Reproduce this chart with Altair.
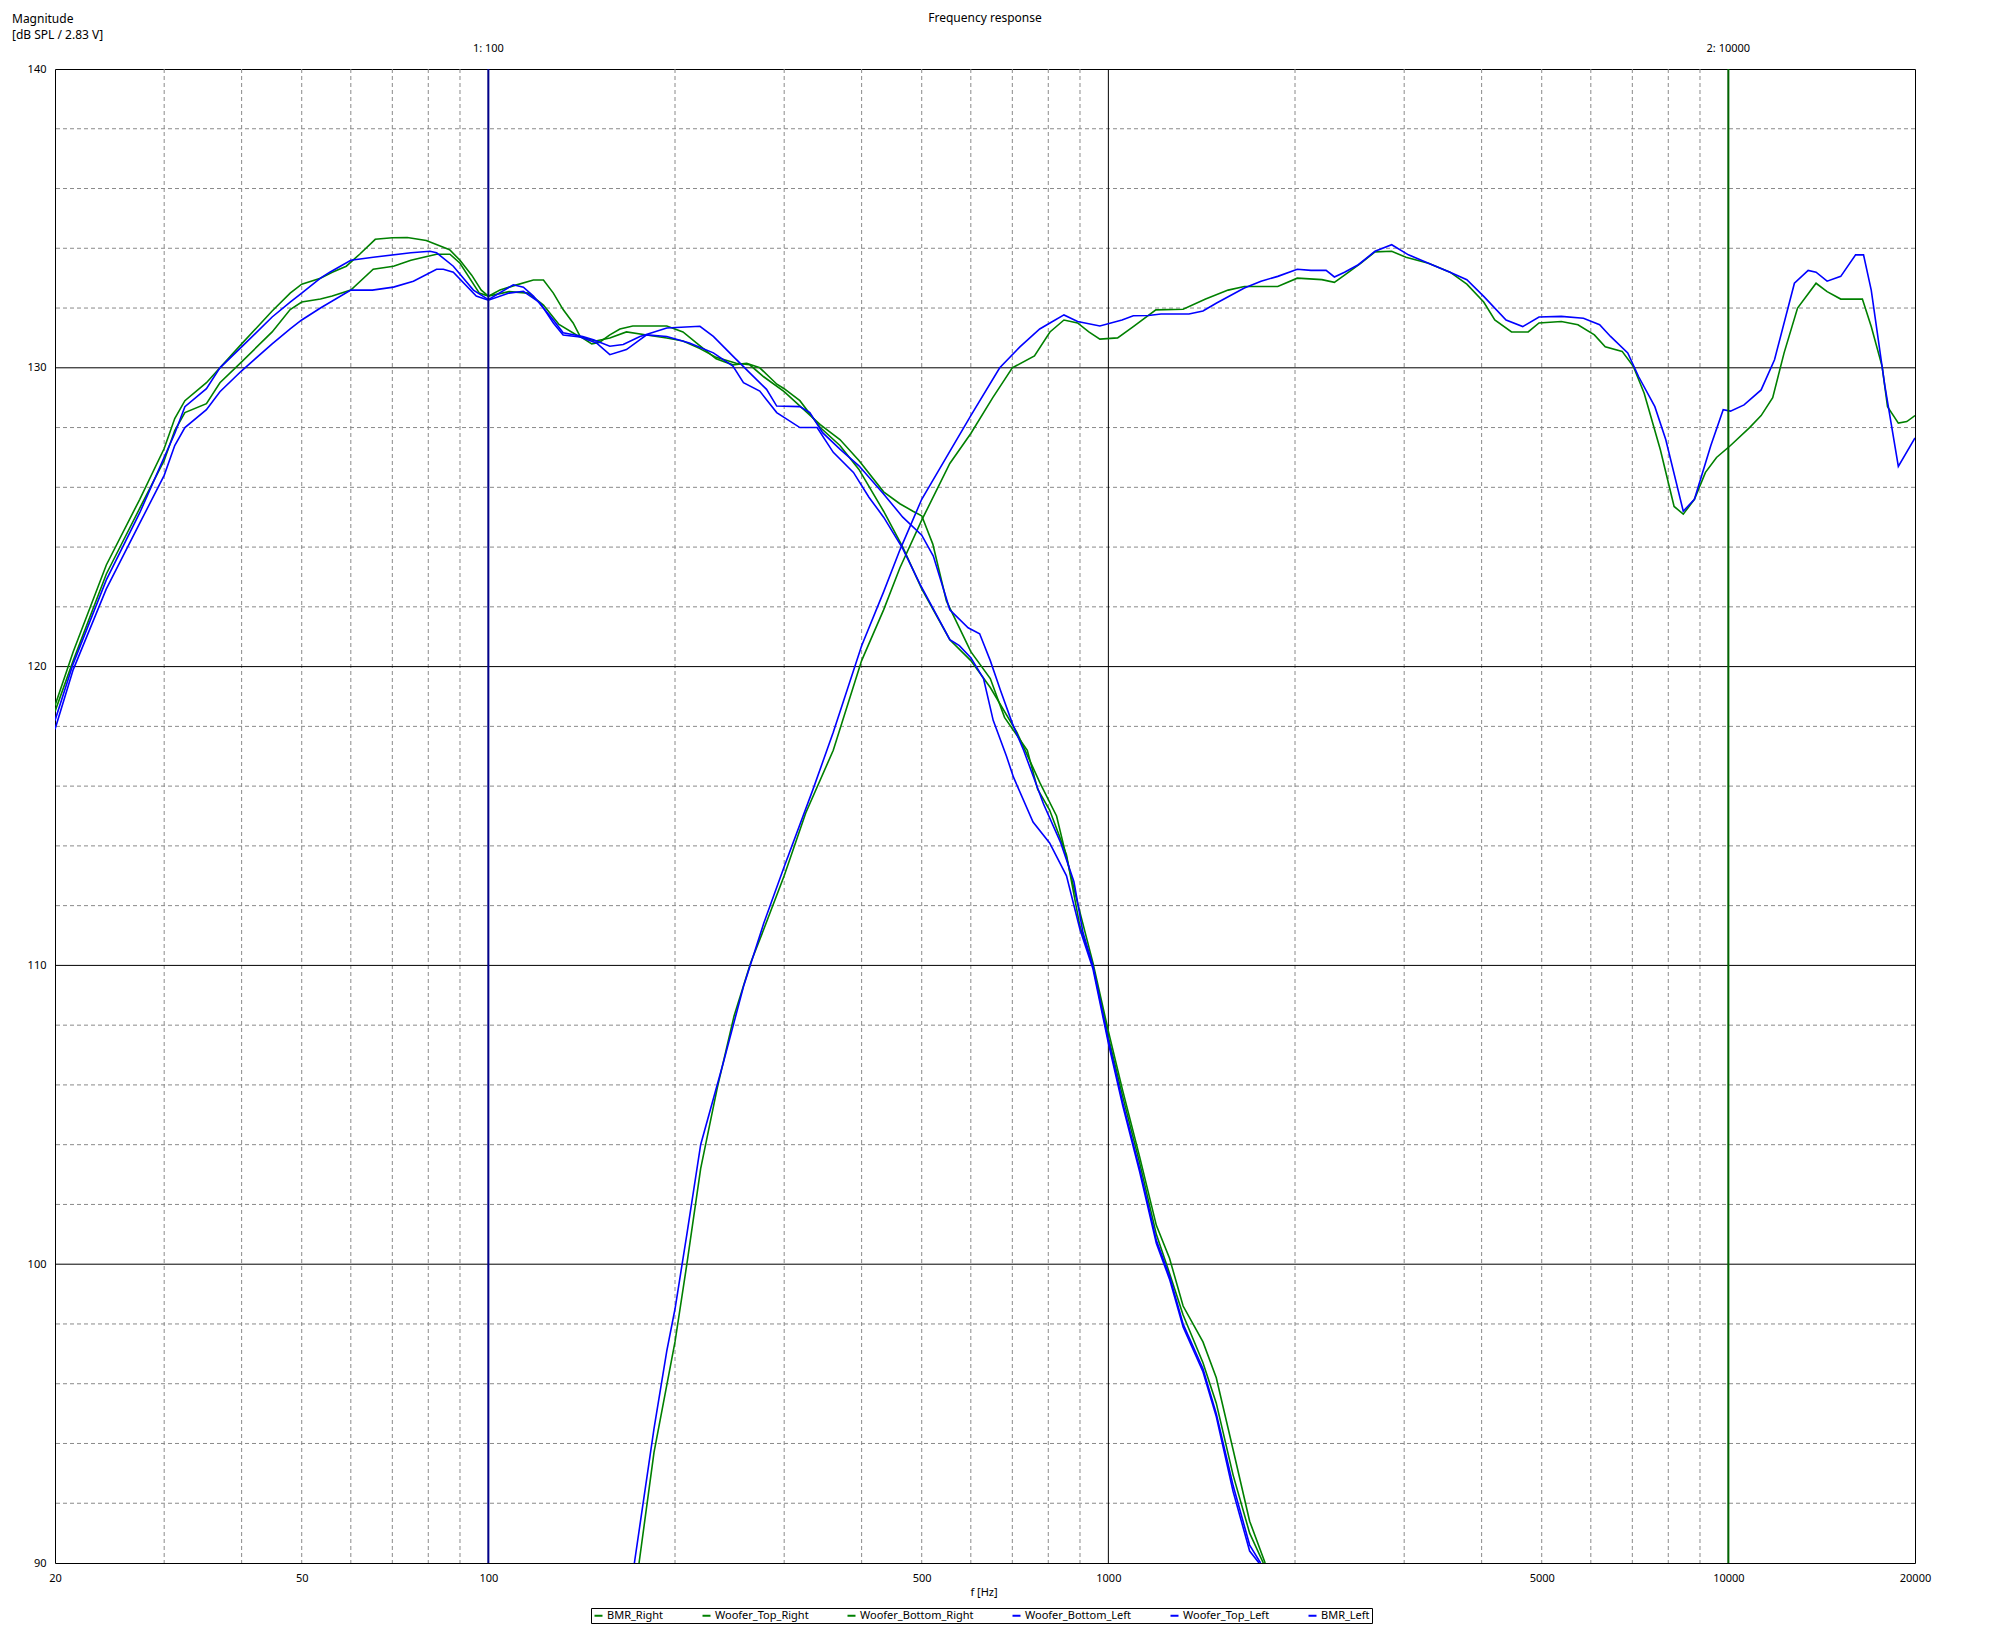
import altair as alt
import pandas as pd

FONT = "Noto Sans"

# ---------------- data ----------------
names = ["BMR_Right", "Woofer_Top_Right", "Woofer_Bottom_Right",
         "Woofer_Bottom_Left", "Woofer_Top_Left", "BMR_Left"]
colors = ["#008000", "#008000", "#008000", "#0000ff", "#0000ff", "#0000ff"]

bmr_right_f = [175, 185, 200, 209, 220, 234, 249, 265, 278, 300, 325, 360, 400, 434, 461, 500, 555, 600,
               651, 700, 760, 805, 848, 892, 930, 969, 1035, 1097, 1193, 1320, 1435, 1560, 1657, 1876,
               2017, 2210, 2315, 2404, 2555, 2692, 2864, 3020, 3283, 3557, 3786, 4031, 4200, 4470, 4755,
               4950, 5378, 5720, 6080, 6330, 6740, 7025, 7315, 7770, 8175, 8458, 8816, 9185, 9570, 10080,
               10820, 11294, 11790, 12300, 12930, 13850, 14430, 15180, 15650, 16450, 17000, 17700, 18060,
               18800, 19400, 20000]
bmr_right_db = [90.0, 93.7, 97.4, 100.0, 103.2, 105.9, 108.3, 110.1, 111.2, 113.0, 115.1, 117.2, 120.2, 121.9,
                123.3, 124.9, 126.8, 127.8, 129.0, 130.0, 130.4, 131.2, 131.6, 131.5, 131.2, 130.96, 131.0,
                131.38, 131.94, 131.96, 132.3, 132.6, 132.72, 132.72, 133.0, 132.95, 132.86, 133.1, 133.5,
                133.88, 133.9, 133.7, 133.5, 133.2, 132.8, 132.2, 131.6, 131.2, 131.2, 131.5, 131.55, 131.44,
                131.1, 130.7, 130.55, 130.05, 129.15, 127.25, 125.36, 125.1, 125.6, 126.5, 127.0, 127.4,
                128.0, 128.4, 129.0, 130.5, 132.0, 132.83, 132.55, 132.3, 132.3, 132.3, 131.38, 130.05,
                128.7, 128.15, 128.2, 128.4]

bmr_left_f = [172, 185, 194, 200, 209, 220, 239, 258, 278, 300, 334, 360, 400, 434, 461, 500, 555, 600, 668,
              720, 775, 805, 848, 892, 969, 1052, 1097, 1160, 1216, 1349, 1421, 1495, 1657, 1763, 1876, 2017,
              2122, 2245, 2315, 2404, 2530, 2692, 2864, 3048, 3283, 3557, 3786, 4031, 4380, 4660, 4950, 5378,
              5838, 6200, 6456, 6882, 7167, 7611, 7925, 8458, 8816, 9370, 9810, 10080, 10600, 11294, 11870,
              12780, 13450, 13850, 14430, 15180, 16040, 16520, 17000, 17880, 18800, 20000]
bmr_left_db = [90.0, 94.5, 97.1, 98.5, 101.0, 104.0, 106.7, 109.3, 111.4, 113.3, 115.9, 117.8, 120.7, 122.5,
               123.9, 125.6, 127.2, 128.4, 130.0, 130.7, 131.3, 131.5, 131.77, 131.55, 131.4, 131.6, 131.74,
               131.75, 131.8, 131.8, 131.9, 132.17, 132.67, 132.9, 133.06, 133.3, 133.26, 133.26, 133.04, 133.2,
               133.45, 133.9, 134.12, 133.78, 133.5, 133.2, 132.95, 132.39, 131.6, 131.38, 131.7, 131.72,
               131.66, 131.44, 131.05, 130.5, 129.7, 128.7, 127.6, 125.2, 125.6, 127.4, 128.6, 128.55, 128.76,
               129.26, 130.27, 132.83, 133.26, 133.2, 132.9, 133.06, 133.78, 133.78, 132.6, 129.4, 126.7, 127.65]

woofer_top_right_f = [20, 21.4, 24.2, 27.4, 30, 31.2, 32.4, 35.1, 36.9, 40, 44.8, 47.9, 50, 53.6, 56, 59, 62,
                      65.7, 70, 74, 79.4, 86.6, 90, 94, 97.4, 100, 108, 116, 122.7, 130, 140, 149, 157, 167,
                      180, 194, 206, 219, 233, 251, 264, 278, 300, 343, 369, 396, 434, 461, 484, 500, 521, 548,
                      600, 645, 680, 740, 769, 804, 856, 900, 944, 1000, 1055, 1123, 1195, 1255, 1320, 1421,
                      1493, 1589, 1690, 1778]
woofer_top_right_db = [118.7, 120.5, 123.4, 125.6, 127.3, 128.3, 128.9, 129.5, 130.0, 130.8, 131.9, 132.5,
                       132.8, 133.0, 133.2, 133.4, 133.8, 134.3, 134.35, 134.36, 134.26, 133.95, 133.6, 133.1,
                       132.6, 132.4, 132.55, 132.5, 132.1, 131.45, 131.05, 130.9, 131.0, 131.2, 131.1, 131.0,
                       130.9, 130.65, 130.35, 130.15, 130.1, 129.7, 129.2, 128.1, 127.6, 126.9, 125.85, 125.45,
                       125.2, 125.05, 124.1, 122.2, 120.5, 119.6, 118.3, 117.2, 115.9, 115.2, 113.7, 111.3,
                       110.0, 107.6, 105.6, 103.4, 101.0, 99.7, 98.3, 96.7, 95.35, 92.95, 91.0, 90.0]

woofer_bottom_right_f = [20, 21.4, 24.2, 27.4, 30, 31.2, 32.4, 35.1, 36.9, 40, 44.8, 47.9, 50, 53.6, 56, 60,
                         65.2, 70.3, 75, 82.5, 86.7, 90, 96.7, 100, 104.4, 110, 118.2, 122.7, 127.3, 132, 137,
                         140.6, 146.8, 151, 157, 163, 171, 182, 194, 206, 219, 233, 248, 261, 274, 292, 300,
                         318, 343, 369, 396, 434, 466, 500, 555, 600, 645, 712, 776, 825, 889, 944, 1000, 1055,
                         1123, 1195, 1255, 1320, 1421, 1493, 1589, 1690, 1790]
woofer_bottom_right_db = [118.5, 120.2, 123.1, 125.3, 126.9, 127.9, 128.5, 128.8, 129.5, 130.2, 131.2, 131.95,
                          132.2, 132.3, 132.4, 132.6, 133.3, 133.4, 133.6, 133.8, 133.8, 133.5, 132.5, 132.4,
                          132.6, 132.75, 132.94, 132.94, 132.5, 131.95, 131.5, 131.05, 130.8, 130.85, 131.1,
                          131.3, 131.4, 131.4, 131.4, 131.2, 130.75, 130.3, 130.1, 130.15, 130.0, 129.45, 129.3,
                          128.9, 128.0, 127.4, 126.6, 125.2, 124.0, 122.6, 120.9, 120.2, 119.3, 117.8, 116.1,
                          115.0, 112.2, 110.1, 107.8, 105.8, 103.6, 101.3, 100.2, 98.6, 97.4, 96.2, 93.8, 91.4,
                          90.0]

woofer_bottom_left_f = [20, 21.4, 24.2, 27.4, 30, 31.2, 32.4, 35.1, 36.9, 40, 44.8, 47.9, 50, 53.6, 55.5, 60,
                        65.2, 75, 80.5, 82.5, 87.8, 94.6, 100, 109.7, 113.9, 118.2, 127.3, 132, 142, 147.7, 157,
                        165, 175.6, 194, 219.4, 230.6, 248, 264, 281, 291.8, 318, 330, 346, 369, 396, 434, 466,
                        500, 522, 555, 594, 620, 645, 670, 700, 730, 786, 838, 880, 910, 944, 1000, 1055, 1123,
                        1195, 1255, 1320, 1421, 1493, 1589, 1690, 1760]
woofer_bottom_left_db = [118.2, 120.1, 122.9, 125.15, 127.0, 127.8, 128.7, 129.3, 130.0, 130.7, 131.7, 132.2,
                         132.5, 133.0, 133.2, 133.6, 133.7, 133.85, 133.9, 133.85, 133.4, 132.6, 132.28, 132.78,
                         132.7, 132.4, 131.6, 131.17, 131.05, 130.94, 130.72, 130.78, 131.05, 131.33, 131.39,
                         131.05, 130.39, 129.83, 129.28, 128.72, 128.7, 128.5, 127.83, 127.28, 126.72, 125.78,
                         125.0, 124.4, 123.7, 121.9, 121.3, 121.1, 120.2, 119.2, 118.1, 117.2, 115.4, 114.1,
                         112.8, 111.1, 110.0, 107.5, 105.4, 103.2, 100.8, 99.6, 98.0, 96.5, 95.0, 92.6, 90.6,
                         90.0]

woofer_top_left_f = [20, 21.4, 24.2, 27.4, 30, 31.2, 32.4, 35.1, 36.9, 40, 44.8, 47.9, 50, 53.6, 60, 65, 70.3,
                     75.7, 82.5, 84.6, 87.8, 95.6, 100, 108, 113.9, 121.2, 127.3, 132, 140.6, 149.4, 157, 167,
                     180, 194, 211, 230.6, 248, 257.9, 274, 291.8, 318, 339, 360, 388, 411, 434, 466, 497, 555,
                     575, 600, 629, 652, 685, 703, 756, 804, 856, 900, 944, 1000, 1055, 1123, 1195, 1255, 1320,
                     1421, 1493, 1589, 1690, 1750]
woofer_top_left_db = [117.9, 119.9, 122.6, 124.8, 126.4, 127.4, 128.0, 128.6, 129.2, 129.9, 130.8, 131.3, 131.6,
                      132.0, 132.6, 132.6, 132.7, 132.9, 133.3, 133.3, 133.2, 132.4, 132.26, 132.5, 132.56,
                      132.17, 131.5, 131.1, 131.03, 130.83, 130.44, 130.61, 131.1, 131.05, 130.83, 130.5, 130.06,
                      129.5, 129.22, 128.5, 128.0, 128.0, 127.17, 126.5, 125.67, 125.0, 123.95, 122.75, 120.9,
                      120.7, 120.3, 119.6, 118.2, 117.0, 116.3, 114.8, 114.1, 113.0, 111.2, 109.9, 107.4, 105.3,
                      103.1, 100.7, 99.5, 97.9, 96.4, 94.9, 92.4, 90.4, 90.0]

minor_x = [30, 40, 50, 60, 70, 80, 90, 200, 300, 400, 500, 600, 700, 800, 900,
           2000, 3000, 4000, 5000, 6000, 7000, 8000, 9000]
major_x = [100, 1000, 10000]
minor_y = [92, 94, 96, 98, 102, 104, 106, 108, 112, 114, 116, 118, 122, 124, 126, 128, 132, 134, 136, 138]
major_y = [100, 110, 120, 130]
x_tick_values = [20, 50, 100, 500, 1000, 5000, 10000, 20000]
y_tick_values = [90, 100, 110, 120, 130, 140]

marker_f = [100, 10000]
marker_labels = ["1:  100", "2:  10000"]
marker_colors = ["#00008b", "#006400"]

title_text = "Frequency response"
y_title_lines = ["Magnitude", "[dB SPL / 2.83 V]"]
x_title_text = "f [Hz]"

# ---------------- build tables ----------------
series = [
    ("BMR_Right", bmr_right_f, bmr_right_db),
    ("Woofer_Top_Right", woofer_top_right_f, woofer_top_right_db),
    ("Woofer_Bottom_Right", woofer_bottom_right_f, woofer_bottom_right_db),
    ("Woofer_Bottom_Left", woofer_bottom_left_f, woofer_bottom_left_db),
    ("Woofer_Top_Left", woofer_top_left_f, woofer_top_left_db),
    ("BMR_Left", bmr_left_f, bmr_left_db),
]
rows = []
for name, fs, ds in series:
    for i, (f, d) in enumerate(zip(fs, ds)):
        rows.append({"series": name, "f": f, "db": d, "i": i})
curves_df = pd.DataFrame(rows)

W, H = 1860, 1494
xs = alt.Scale(type="log", domain=[20, 20000], nice=False)
ys = alt.Scale(domain=[90, 140], nice=False, zero=False)

x_axis = alt.Axis(values=x_tick_values, format="d", title=None, grid=False, ticks=False,
                  tickSize=0, domain=False, labelPadding=9, labelFontSize=11, labelFont=FONT,
                  labelColor="black", labelFlush=False, labelBaseline="top", labelOverlap=False)
y_axis = alt.Axis(values=y_tick_values, format="d", title=None, grid=False, ticks=False,
                  tickSize=0, domain=False, labelPadding=9, labelFontSize=11, labelFont=FONT,
                  labelColor="black", labelFlush=False, labelOverlap=False)


def X(field):
    return alt.X(field, scale=xs, axis=x_axis)


def Y(field):
    return alt.Y(field, scale=ys, axis=y_axis)


grid_minor_x = alt.Chart(pd.DataFrame({"f": minor_x})).mark_rule(
    color="#8a8a8a", strokeWidth=1, strokeDash=[4, 3]
).encode(x=X("f:Q"))

grid_minor_y = alt.Chart(pd.DataFrame({"db": minor_y})).mark_rule(
    color="#8a8a8a", strokeWidth=1, strokeDash=[4, 3]
).encode(y=Y("db:Q"))

grid_major_x = alt.Chart(pd.DataFrame({"f": major_x})).mark_rule(
    color="black", strokeWidth=1
).encode(x=X("f:Q"))

grid_major_y = alt.Chart(pd.DataFrame({"db": major_y})).mark_rule(
    color="black", strokeWidth=1
).encode(y=Y("db:Q"))

curves = alt.Chart(curves_df).mark_line(strokeWidth=1.6, clip=True, interpolate="linear").encode(
    x=X("f:Q"),
    y=Y("db:Q"),
    color=alt.Color("series:N", scale=alt.Scale(domain=names, range=colors),
                    legend=alt.Legend(orient="none", legendX=536, legendY=1539, direction="horizontal",
                                      columns=6, title=None, symbolType="stroke", symbolSize=64,
                                      symbolStrokeWidth=2, labelFontSize=11, labelFont=FONT,
                                      labelColor="black", labelOffset=3, columnPadding=34, padding=2,
                                      strokeColor="black", fillColor="white", labelLimit=300)),
    order=alt.Order("i:Q"),
)

markers_df = pd.DataFrame({"f": marker_f, "label": marker_labels, "c": marker_colors})
markers = alt.Chart(markers_df).mark_rule(strokeWidth=2).encode(
    x=X("f:Q"),
    stroke=alt.Stroke("c:N", scale=None),
)
marker_text = alt.Chart(markers_df).mark_text(
    fontSize=11, font=FONT, color="black", align="center", baseline="middle"
).encode(x=X("f:Q"), y=alt.value(-20), text="label:N")

title_layer = alt.Chart(pd.DataFrame({"t": [title_text]})).mark_text(
    fontSize=12, font=FONT, color="black", align="center", baseline="top"
).encode(x=alt.value(W / 2), y=alt.value(-56), text="t:N")

ytitle_layer = alt.Chart(pd.DataFrame({"t": [y_title_lines]})).mark_text(
    fontSize=12, font=FONT, color="black", align="left", baseline="middle", lineHeight=16
).encode(x=alt.value(-43), y=alt.value(-50), text="t")

xtitle_layer = alt.Chart(pd.DataFrame({"t": [x_title_text]})).mark_text(
    fontSize=11, font=FONT, color="black", align="center", baseline="middle"
).encode(x=alt.value(929), y=alt.value(H + 30), text="t:N")

chart = alt.layer(
    grid_minor_x, grid_minor_y, grid_major_x, grid_major_y, curves, markers, marker_text,
    title_layer, ytitle_layer, xtitle_layer
).properties(
    width=W, height=H,
    padding={"left": 47, "top": 61, "right": 67, "bottom": 66},
    autosize=alt.AutoSizeParams(type="none"),
    background="white",
).configure_view(stroke="black", strokeWidth=1)

chart.save("out.html", embed_options={"renderer": "svg", "actions": False})
